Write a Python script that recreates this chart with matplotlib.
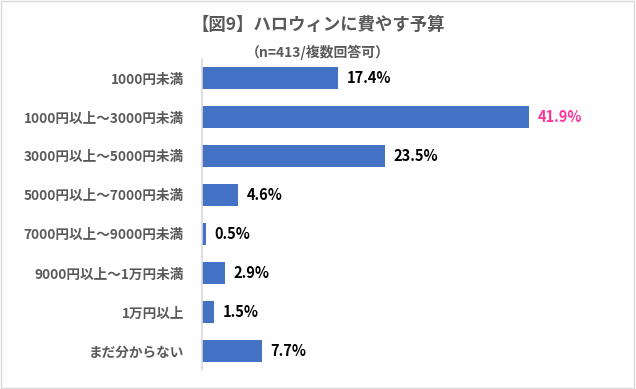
import matplotlib.pyplot as plt

plt.rcParams['font.family'] = ['Noto Sans CJK JP', 'DejaVu Sans']

categories = ['1000円未満', '1000円以上～3000円未満', '3000円以上～5000円未満',
              '5000円以上～7000円未満', '7000円以上～9000円未満',
              '9000円以上～1万円未満', '1万円以上', 'まだ分からない']
values = [17.4, 41.9, 23.5, 4.6, 0.5, 2.9, 1.5, 7.7]
highlight = 41.9

fig = plt.figure(figsize=(6.36, 3.89), dpi=100)
ax = fig.add_axes([0.3176, 0.0476, 0.65, 0.802])

y = range(len(categories))
bars = ax.barh(y, values, height=0.56, color='#4472C4')
ax.set_ylim(len(categories) - 0.5, -0.5)
ax.set_xlim(0, 53)

for b, v in zip(bars, values):
    color = '#FF3399' if v == highlight else 'black'
    ax.text(v + 1.1, b.get_y() + b.get_height() / 2, f'{v:.1f}%',
            ha='left', va='center', fontsize=10.5, fontweight='bold', color=color)

ax.set_yticks(list(y))
ax.set_yticklabels(categories, fontsize=9.8, fontweight='bold', color='#595959')
ax.tick_params(axis='y', length=0, pad=13)
ax.set_xticks([])
for s in ['top', 'right', 'bottom']:
    ax.spines[s].set_visible(False)
ax.spines['left'].set_color('#D9D9D9')
ax.spines['left'].set_linewidth(1.2)

fig.text(0.5, 0.935, '【図9】ハロウィンに費やす予算', ha='center', va='center',
         fontsize=12.5, fontweight='bold', color='#595959')
fig.text(0.5, 0.866, '（n=413/複数回答可）', ha='center', va='center',
         fontsize=10, fontweight='bold', color='#595959')

fig.patches.append(plt.Rectangle((0.002, 0.003), 0.995, 0.994, transform=fig.transFigure,
                                 fill=False, edgecolor='#D9D9D9', linewidth=1))

plt.savefig('out.png', dpi=100)
